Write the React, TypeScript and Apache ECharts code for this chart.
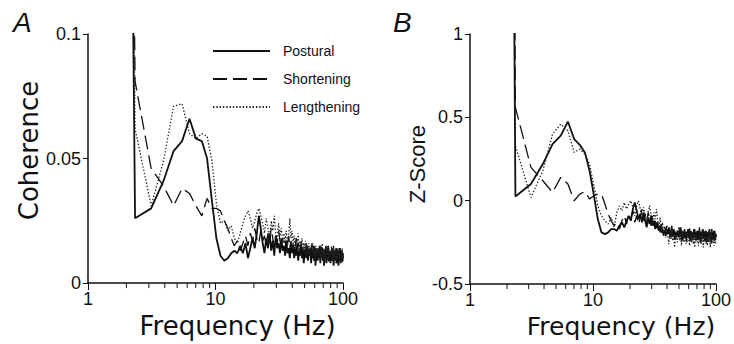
import React, { useEffect, useRef } from "react";
import * as echarts from "echarts";

// Frequency bins (Hz)
const frequencies = [
  1.56, 2.34, 3.13, 3.91, 4.69, 5.47, 6.25, 7.03, 7.81, 8.59,
  9.38, 10.16, 10.94, 11.72, 12.5, 13.28, 14.06, 14.84, 15.63, 16.41,
  17.19, 17.97, 18.75, 19.53, 20.31, 21.09, 21.88, 22.66, 23.44, 24.22,
  25, 25.78, 26.56, 27.34, 28.13, 28.91, 29.69, 30.47, 31.25, 32.03,
  32.81, 33.59, 34.38, 35.16, 35.94, 36.72, 37.5, 38.28, 39.06, 39.84,
  40.63, 41.41, 42.19, 42.97, 43.75, 44.53, 45.31, 46.09, 46.88, 47.66,
  48.44, 49.22, 50, 50.78, 51.56, 52.34, 53.13, 53.91, 54.69, 55.47,
  56.25, 57.03, 57.81, 58.59, 59.38, 60.16, 60.94, 61.72, 62.5, 63.28,
  64.06, 64.84, 65.63, 66.41, 67.19, 67.97, 68.75, 69.53, 70.31, 71.09,
  71.88, 72.66, 73.44, 74.22, 75, 75.78, 76.56, 77.34, 78.13, 78.91,
  79.69, 80.47, 81.25, 82.03, 82.81, 83.59, 84.38, 85.16, 85.94, 86.72,
  87.5, 88.28, 89.06, 89.84, 90.63, 91.41, 92.19, 92.97, 93.75, 94.53,
  95.31, 96.09, 96.88, 97.66, 98.44, 99.22, 100,
];

// Panel A: coherence
const posturalCoherence = [
  0.95, 0.026, 0.030, 0.041, 0.053, 0.057, 0.066, 0.058, 0.057, 0.050,
  0.033, 0.018, 0.011, 0.009, 0.010, 0.012, 0.013, 0.012, 0.015, 0.012,
  0.016, 0.010, 0.014, 0.018, 0.014, 0.020, 0.027, 0.022, 0.016, 0.012,
  0.018, 0.014, 0.020, 0.013, 0.017, 0.011, 0.019, 0.014, 0.016, 0.012,
  0.018, 0.013, 0.015, 0.011, 0.017, 0.012, 0.014, 0.010, 0.016, 0.012,
  0.015, 0.010, 0.014, 0.011, 0.016, 0.009, 0.013, 0.011, 0.015, 0.010,
  0.013, 0.008, 0.012, 0.014, 0.010, 0.015, 0.009, 0.012, 0.011, 0.014,
  0.008, 0.013, 0.010, 0.015, 0.009, 0.012, 0.007, 0.014, 0.011, 0.009,
  0.013, 0.010, 0.015, 0.008, 0.012, 0.011, 0.014, 0.009, 0.012, 0.007,
  0.013, 0.010, 0.014, 0.008, 0.012, 0.011, 0.015, 0.009, 0.011, 0.013,
  0.008, 0.012, 0.010, 0.014, 0.009, 0.011, 0.007, 0.013, 0.010, 0.012,
  0.009, 0.014, 0.008, 0.012, 0.010, 0.013, 0.007, 0.011, 0.014, 0.009,
  0.012, 0.008, 0.013, 0.010, 0.011, 0.009, 0.012,
];
const shorteningCoherence = [
  0.95, 0.081, 0.046, 0.039, 0.031, 0.038, 0.036, 0.031, 0.027, 0.034,
  0.030, 0.030, 0.029, 0.025, 0.022, 0.018, 0.015, 0.017, 0.013, 0.016,
  0.019, 0.015, 0.020, 0.017, 0.022, 0.018, 0.016, 0.021, 0.017, 0.019,
  0.015, 0.020, 0.016, 0.022, 0.018, 0.015, 0.019, 0.016, 0.021, 0.017,
  0.014, 0.018, 0.015, 0.017, 0.013, 0.016, 0.019, 0.014, 0.017, 0.013,
  0.016, 0.012, 0.015, 0.018, 0.013, 0.016, 0.011, 0.014, 0.017, 0.012,
  0.015, 0.011, 0.014, 0.012, 0.016, 0.010, 0.013, 0.015, 0.011, 0.014,
  0.012, 0.016, 0.010, 0.013, 0.011, 0.015, 0.009, 0.013, 0.012, 0.010,
  0.014, 0.011, 0.013, 0.009, 0.015, 0.012, 0.010, 0.014, 0.011, 0.013,
  0.009, 0.012, 0.015, 0.010, 0.013, 0.011, 0.014, 0.008, 0.012, 0.010,
  0.013, 0.011, 0.009, 0.014, 0.010, 0.012, 0.015, 0.009, 0.011, 0.013,
  0.010, 0.012, 0.008, 0.014, 0.011, 0.009, 0.013, 0.010, 0.012, 0.011,
  0.014, 0.009, 0.012, 0.010, 0.013, 0.008, 0.011,
];
const lengtheningCoherence = [
  0.95, 0.062, 0.031, 0.049, 0.071, 0.072, 0.060, 0.058, 0.060, 0.059,
  0.049, 0.032, 0.024, 0.025, 0.021, 0.023, 0.018, 0.016, 0.020, 0.024,
  0.027, 0.029, 0.026, 0.022, 0.025, 0.028, 0.030, 0.027, 0.024, 0.020,
  0.026, 0.022, 0.018, 0.025, 0.021, 0.027, 0.020, 0.017, 0.024, 0.019,
  0.022, 0.016, 0.020, 0.017, 0.021, 0.015, 0.019, 0.026, 0.018, 0.021,
  0.016, 0.019, 0.014, 0.018, 0.015, 0.020, 0.013, 0.017, 0.015, 0.018,
  0.013, 0.016, 0.014, 0.017, 0.012, 0.015, 0.013, 0.016, 0.011, 0.014,
  0.015, 0.012, 0.016, 0.011, 0.014, 0.013, 0.010, 0.015, 0.012, 0.014,
  0.011, 0.013, 0.015, 0.010, 0.014, 0.012, 0.016, 0.011, 0.013, 0.009,
  0.014, 0.012, 0.010, 0.015, 0.011, 0.013, 0.009, 0.014, 0.012, 0.010,
  0.013, 0.011, 0.015, 0.009, 0.012, 0.014, 0.010, 0.013, 0.011, 0.008,
  0.012, 0.014, 0.010, 0.013, 0.009, 0.012, 0.011, 0.014, 0.010, 0.012,
  0.009, 0.013, 0.011, 0.010, 0.014, 0.009, 0.012,
];

// Panel B: Z-score
const posturalZ = [
  20, 0.025, 0.10, 0.22, 0.34, 0.39, 0.475, 0.37, 0.335, 0.29,
  0.18, 0.035, -0.11, -0.19, -0.20, -0.19, -0.17, -0.17, -0.18, -0.15,
  -0.13, -0.16, -0.12, -0.09, -0.12, -0.05, -0.01, -0.06, -0.11, -0.08,
  -0.13, -0.07, -0.12, -0.16, -0.10, -0.14, -0.09, -0.15, -0.12, -0.17,
  -0.13, -0.16, -0.18, -0.15, -0.19, -0.17, -0.20, -0.18, -0.21, -0.17,
  -0.20, -0.16, -0.19, -0.22, -0.18, -0.21, -0.17, -0.20, -0.23, -0.19,
  -0.21, -0.18, -0.22, -0.19, -0.16, -0.21, -0.24, -0.19, -0.22, -0.18,
  -0.20, -0.23, -0.19, -0.21, -0.17, -0.22, -0.20, -0.24, -0.18, -0.21,
  -0.19, -0.23, -0.20, -0.17, -0.22, -0.19, -0.24, -0.21, -0.18, -0.22,
  -0.20, -0.23, -0.18, -0.21, -0.25, -0.19, -0.22, -0.20, -0.17, -0.23,
  -0.21, -0.19, -0.24, -0.20, -0.18, -0.22, -0.25, -0.19, -0.21, -0.23,
  -0.18, -0.22, -0.20, -0.24, -0.19, -0.21, -0.17, -0.23, -0.20, -0.22,
  -0.19, -0.24, -0.21, -0.18, -0.23, -0.20, -0.22,
];
const shorteningZ = [
  20, 0.56, 0.20, 0.12, 0.05, 0.14, 0.10, 0.00, 0.04, 0.055,
  0.01, 0.03, 0.04, 0.04, -0.02, -0.08, -0.12, -0.15, -0.13, -0.17,
  -0.12, -0.09, -0.14, -0.08, -0.11, -0.06, -0.13, -0.09, -0.14, -0.10,
  -0.05, -0.12, -0.08, -0.13, -0.07, -0.11, -0.15, -0.09, -0.14, -0.12,
  -0.17, -0.13, -0.16, -0.19, -0.14, -0.18, -0.21, -0.16, -0.19, -0.15,
  -0.20, -0.17, -0.22, -0.18, -0.15, -0.21, -0.19, -0.23, -0.17, -0.20,
  -0.18, -0.22, -0.16, -0.21, -0.19, -0.24, -0.18, -0.20, -0.23, -0.17,
  -0.21, -0.19, -0.25, -0.18, -0.22, -0.20, -0.16, -0.23, -0.19, -0.21,
  -0.24, -0.18, -0.20, -0.22, -0.17, -0.23, -0.19, -0.21, -0.25, -0.18,
  -0.22, -0.20, -0.16, -0.23, -0.19, -0.21, -0.24, -0.18, -0.22, -0.20,
  -0.17, -0.23, -0.21, -0.19, -0.25, -0.18, -0.22, -0.20, -0.24, -0.19,
  -0.21, -0.17, -0.23, -0.20, -0.22, -0.18, -0.25, -0.19, -0.21, -0.23,
  -0.18, -0.22, -0.20, -0.24, -0.19, -0.21, -0.20,
];
const lengtheningZ = [
  20, 0.33, 0.02, 0.18, 0.40, 0.46, 0.42, 0.29, 0.31, 0.28,
  0.22, 0.09, -0.03, -0.09, -0.12, -0.14, -0.10, -0.16, -0.07, -0.03,
  -0.06, -0.01, -0.05, -0.02, 0.00, -0.04, -0.09, -0.03, 0.00, -0.05,
  -0.10, -0.04, -0.08, -0.13, -0.06, -0.03, -0.09, -0.14, -0.07, -0.11,
  -0.05, -0.12, -0.16, -0.10, -0.18, -0.13, -0.20, -0.15, -0.22, -0.17,
  -0.21, -0.26, -0.19, -0.23, -0.17, -0.24, -0.20, -0.28, -0.22, -0.19,
  -0.25, -0.21, -0.18, -0.24, -0.20, -0.27, -0.22, -0.19, -0.25, -0.23,
  -0.20, -0.26, -0.22, -0.18, -0.24, -0.21, -0.27, -0.23, -0.19, -0.25,
  -0.22, -0.20, -0.26, -0.23, -0.28, -0.21, -0.24, -0.19, -0.25, -0.22,
  -0.27, -0.20, -0.23, -0.25, -0.21, -0.26, -0.22, -0.19, -0.24, -0.28,
  -0.21, -0.25, -0.23, -0.20, -0.26, -0.22, -0.24, -0.27, -0.21, -0.23,
  -0.25, -0.20, -0.24, -0.28, -0.22, -0.19, -0.26, -0.23, -0.21, -0.25,
  -0.22, -0.27, -0.20, -0.24, -0.23, -0.26, -0.21,
];

const seriesNames = ["Postural", "Shortening", "Lengthening"];
const minorTickFreqs = [2, 3, 4, 5, 6, 7, 8, 9, 20, 30, 40, 50, 60, 70, 80, 90];

const INK = "#111";
const LABEL_FONT = "'Liberation Sans', Arial, sans-serif";
const NAME_FONT = "'DejaVu Sans', 'Liberation Sans', sans-serif";

const lineStyles = [
  { color: INK, width: 1.8, type: "solid" as any },
  { color: INK, width: 1.3, type: [14, 6] as any },
  { color: "#222", width: 1.3, type: [1.4, 1.9] as any },
];

function pairs(vals: number[]) {
  return frequencies.map((f, i) => [f, vals[i]]);
}

function makeLine(name: string, vals: number[], idx: number, style: any) {
  return {
    type: "line",
    name,
    xAxisIndex: idx,
    yAxisIndex: idx,
    data: pairs(vals),
    showSymbol: false,
    symbol: "none",
    clip: true,
    silent: true,
    lineStyle: style,
    itemStyle: { color: style.color },
    z: 3,
  };
}

function minorTicks(idx: number, yMin: number) {
  return {
    type: "custom",
    xAxisIndex: idx,
    yAxisIndex: idx,
    silent: true,
    clip: false,
    data: minorTickFreqs.map((f) => [f, yMin]),
    encode: { x: 0, y: 1 },
    renderItem: (_p: any, api: any) => {
      const pt = api.coord([api.value(0), api.value(1)]);
      return {
        type: "line",
        shape: { x1: pt[0], y1: pt[1], x2: pt[0], y2: pt[1] + 5 },
        style: { stroke: INK, lineWidth: 1 },
      };
    },
  };
}

const xAxisBase = {
  type: "log",
  logBase: 10,
  min: 1,
  max: 100,
  axisLine: { show: true, onZero: false, lineStyle: { color: INK, width: 1.5 } },
  axisTick: { show: true, length: 7, inside: false, lineStyle: { color: INK, width: 1 } },
  axisLabel: { fontSize: 18, fontFamily: LABEL_FONT, color: INK, margin: 7 },
  splitLine: { show: false },
  minorTick: { show: false },
  name: "Frequency (Hz)",
  nameLocation: "middle",
  nameGap: 19,
};

const yAxisBase = {
  type: "value",
  axisLine: { show: true, onZero: false, lineStyle: { color: INK, width: 1.5 } },
  axisTick: { show: true, length: 5, inside: false, lineStyle: { color: INK, width: 1 } },
  axisLabel: { fontSize: 18, fontFamily: LABEL_FONT, color: INK, margin: 7 },
  splitLine: { show: false },
  nameLocation: "middle",
};

export default function App() {
  const ref = useRef<HTMLDivElement>(null);

  useEffect(() => {
    if (!ref.current) return;
    const chart = echarts.init(ref.current, null, { renderer: "svg" });
    const option: any = {
      animation: false,
      backgroundColor: "#fff",
      grid: [
        { left: 88, top: 34, width: 255, height: 259 },
        { left: 470, top: 34, width: 255, height: 258 },
      ],
      xAxis: [
        {
          ...xAxisBase,
          gridIndex: 0,
          nameTextStyle: { fontSize: 26, fontFamily: NAME_FONT, color: INK, padding: [0, 0, 0, 44] },
        },
        {
          ...xAxisBase,
          gridIndex: 1,
          nameTextStyle: { fontSize: 25, fontFamily: NAME_FONT, color: INK, padding: [0, 0, 0, 56] },
        },
      ],
      yAxis: [
        {
          ...yAxisBase,
          gridIndex: 0,
          min: 0,
          max: 0.1,
          interval: 0.05,
          name: "Coherence",
          nameGap: 40,
          nameTextStyle: { fontSize: 26, fontFamily: NAME_FONT, color: INK, padding: [0, 0, 0, 16] },
        },
        {
          ...yAxisBase,
          gridIndex: 1,
          min: -0.5,
          max: 1,
          interval: 0.5,
          name: "Z-Score",
          nameGap: 38,
          nameTextStyle: { fontSize: 22, fontFamily: LABEL_FONT, color: INK, padding: [0, 10, 0, 0] },
        },
      ],
      legend: {
        data: seriesNames,
        orient: "vertical",
        left: 212,
        top: 44,
        padding: 0,
        itemWidth: 57,
        itemHeight: 14,
        itemGap: 14,
        selectedMode: false,
        itemStyle: { opacity: 0 },
        textStyle: { fontSize: 14, fontFamily: LABEL_FONT, color: INK, padding: [0, 0, 0, 8] },
      },
      graphic: [
        {
          type: "text",
          left: 13,
          top: 8,
          style: { text: "A", fontSize: 28, fontStyle: "italic", fontFamily: LABEL_FONT, fill: INK },
        },
        {
          type: "text",
          left: 393,
          top: 8,
          style: { text: "B", fontSize: 28, fontStyle: "italic", fontFamily: LABEL_FONT, fill: INK },
        },
      ],
      series: [
        makeLine(seriesNames[0], posturalCoherence, 0, lineStyles[0]),
        makeLine(seriesNames[1], shorteningCoherence, 0, lineStyles[1]),
        makeLine(seriesNames[2], lengtheningCoherence, 0, lineStyles[2]),
        makeLine(seriesNames[0], posturalZ, 1, lineStyles[0]),
        makeLine(seriesNames[1], shorteningZ, 1, lineStyles[1]),
        makeLine(seriesNames[2], lengtheningZ, 1, lineStyles[2]),
        minorTicks(0, 0),
        minorTicks(1, -0.5),
      ],
    };
    chart.setOption(option);
    return () => chart.dispose();
  }, []);

  return (
    <div
      ref={ref}
      style={{ position: "fixed", left: 0, top: 0, width: 734, height: 344, background: "#fff" }}
    />
  );
}
